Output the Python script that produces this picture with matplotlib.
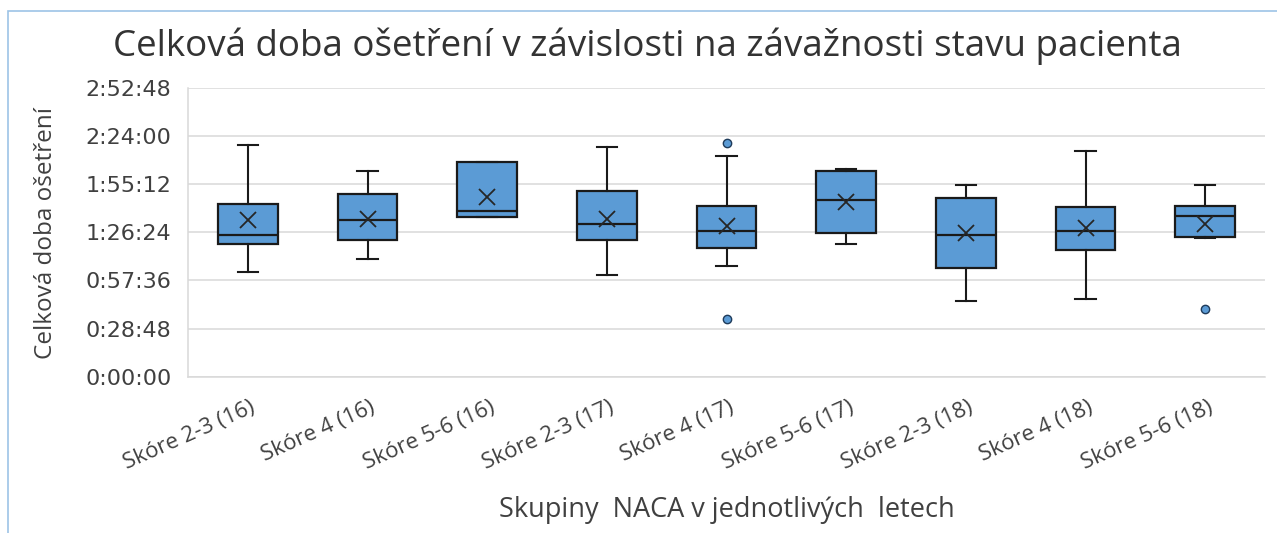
import numpy as np
import matplotlib.pyplot as plt
import matplotlib.transforms as mtransforms
from matplotlib.patches import Rectangle
from matplotlib.ticker import FuncFormatter, MultipleLocator

# skupiny NACA po letech
labels = ['Skóre 2-3 (16)', 'Skóre 4 (16)', 'Skóre 5-6 (16)',
          'Skóre 2-3 (17)', 'Skóre 4 (17)', 'Skóre 5-6 (17)',
          'Skóre 2-3 (18)', 'Skóre 4 (18)', 'Skóre 5-6 (18)']

# hodnoty v minutách
whislo = [62.9, 70.7, 95.8, 60.7, 66.3, 79.5, 45.3, 46.3, 83.0]
q1 = [79.3, 81.7, 95.8, 81.7, 77.2, 85.9, 65.3, 76.0, 83.8]
median = [84.9, 93.8, 99.4, 91.4, 87.2, 105.8, 85.0, 87.2, 96.0]
q3 = [103.6, 109.2, 128.7, 111.2, 102.4, 123.4, 106.8, 101.4, 102.4]
whishi = [138.9, 123.4, 128.7, 137.7, 132.2, 124.2, 114.6, 135.3, 114.6]
mean = [93.8, 94.6, 107.8, 94.4, 90.2, 104.8, 85.9, 88.9, 91.3]
outliers = [[], [], [], [], [140.1, 34.4], [], [], [], [40.7]]

blue = '#5B9BD5'
dark = '#1a1a1a'
grid = '#d9d9d9'
text = '#404040'

fig = plt.figure(figsize=(12.77, 5.33), dpi=100)
ax = fig.add_axes([188 / 1277, 1 - 376.7 / 533, (1265 - 188) / 1277, (376.7 - 88) / 533])

stats = []
for i in range(len(labels)):
    stats.append(dict(label=labels[i], whislo=whislo[i], q1=q1[i], med=median[i],
                      q3=q3[i], whishi=whishi[i], mean=mean[i],
                      fliers=np.array(outliers[i])))

ax.bxp(stats, positions=range(len(labels)), widths=0.5, capwidths=0.17,
       patch_artist=True, showmeans=True,
       boxprops=dict(facecolor=blue, edgecolor=dark, linewidth=1.6),
       medianprops=dict(color=dark, linewidth=1.6),
       whiskerprops=dict(color=dark, linewidth=1.5),
       capprops=dict(color=dark, linewidth=1.5),
       meanprops=dict(marker='x', markeredgecolor='#262626', markersize=12,
                      markeredgewidth=1.3),
       flierprops=dict(marker='o', markerfacecolor=blue, markeredgecolor='#1f3b5a',
                       markersize=6, markeredgewidth=1))

def hms(v, pos):
    total = int(round(v * 60))
    return f'{total // 3600}:{(total % 3600) // 60:02d}:{total % 60:02d}'

ax.set_xlim(-0.5, len(labels) - 0.5)
ax.set_ylim(0, 172.8)
ax.yaxis.set_major_locator(MultipleLocator(28.8))
ax.yaxis.set_major_formatter(FuncFormatter(hms))
ax.set_axisbelow(True)
ax.grid(axis='y', color=grid, linewidth=1.1)
for s in ['top', 'right']:
    ax.spines[s].set_visible(False)
ax.spines['left'].set_color(grid)
ax.spines['bottom'].set_color(grid)
ax.spines['left'].set_linewidth(1.1)
ax.spines['bottom'].set_linewidth(1.1)
ax.tick_params(length=0)
ax.tick_params(axis='y', pad=12, labelcolor=text)
for t in ax.get_yticklabels():
    t.set_fontfamily('DejaVu Sans')
    t.set_fontsize(16)

ax.set_xticks(range(len(labels)))
ax.set_xticklabels(labels, rotation=24, ha='right', rotation_mode='anchor',
                   fontfamily='Open Sans', fontsize=16, color=text)
ax.tick_params(axis='x', pad=15)
off = mtransforms.ScaledTranslation(2 / 100, 0, fig.dpi_scale_trans)
for t in ax.get_xticklabels():
    t.set_transform(t.get_transform() + off)

fig.text(0.5 * (110 + 1185) / 1277, 1 - 46 / 533,
         'Celková doba ošetření v závislosti na závažnosti stavu pacienta',
         ha='center', va='center', fontfamily='Open Sans', fontsize=26.5, color='#333333')
fig.text(727 / 1277, 1 - 510 / 533, 'Skupiny  NACA v jednotlivých  letech',
         ha='center', va='center', fontfamily='Open Sans', fontsize=19.5, color=text)
fig.text(46 / 1277, 1 - 233 / 533, 'Celková doba ošetření', rotation=90,
         ha='center', va='center', fontfamily='Open Sans', fontsize=17.5, color=text)

# okraj oblasti grafu
fig.patches.append(Rectangle((7.5 / 1277, -0.1), 1.2, 1.1 - 11 / 533,
                             transform=fig.transFigure, fill=False,
                             edgecolor='#9dc3e6', linewidth=1.2))

fig.savefig('out.png', dpi=100)
